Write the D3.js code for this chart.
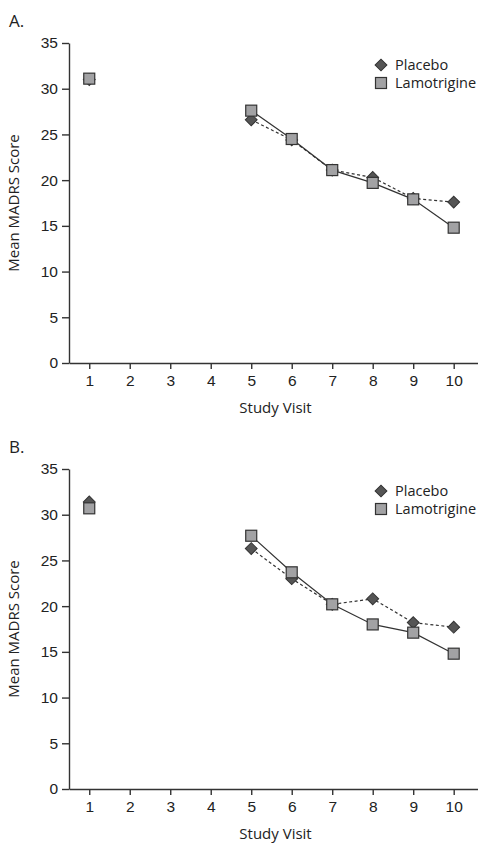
<!DOCTYPE html>
<html>
<head>
<meta charset="utf-8">
<script src="https://cdn.jsdelivr.net/npm/d3@7"></script>
<style>
  body { margin: 0; background: #fff; }
  svg { display: block; font-family: "Open Sans", sans-serif; }
  .axis path, .axis line { stroke: #333; stroke-width: 1.4; }
  .axis text { fill: #222; font-size: 15.5px; }
</style>
</head>
<body>
<div id="chart"></div>
<script>
// study visits that were measured
var visits = [1, 5, 6, 7, 8, 9, 10];
var xTicks = [1, 2, 3, 4, 5, 6, 7, 8, 9, 10];
var yTicks = [0, 5, 10, 15, 20, 25, 30, 35];

// panel A
var placeboA = [31.0, 26.6, 24.4, 21.1, 20.3, 18.0, 17.6];
var lamotrigineA = [31.1, 27.6, 24.5, 21.1, 19.7, 17.9, 14.8];

// panel B
var placeboB = [31.4, 26.3, 23.0, 20.2, 20.8, 18.2, 17.7];
var lamotrigineB = [30.7, 27.7, 23.7, 20.2, 18.0, 17.1, 14.8];

var svgWidth = 478, svgHeight = 844;

var svg = d3.select("#chart").append("svg")
    .attr("width", svgWidth)
    .attr("height", svgHeight);

function drawPanel(top, label, placebo, lamotrigine) {
    var margin = { left: 69, top: top },
        width = svgWidth - margin.left,
        height = 320;

    var g = svg.append("g")
        .attr("transform", "translate(" + margin.left + "," + margin.top + ")");

    var x = d3.scaleLinear().domain([0.5, 10.6]).range([0, width]);
    var y = d3.scaleLinear().domain([0, 35]).range([height, 0]);

    svg.append("text")
        .attr("x", 9)
        .attr("y", top - 16)
        .style("font-size", "17px")
        .attr("fill", "#222")
        .text(label);

    g.append("g")
        .attr("class", "axis")
        .attr("transform", "translate(0," + height + ")")
        .call(d3.axisBottom(x).tickValues(xTicks).tickSize(6).tickSizeOuter(0).tickPadding(6));

    g.append("g")
        .attr("class", "axis")
        .call(d3.axisLeft(y).tickValues(yTicks).tickSize(7).tickSizeOuter(0).tickPadding(4));

    g.append("text")
        .attr("x", x(5.6))
        .attr("y", height + 50)
        .attr("text-anchor", "middle")
        .style("font-size", "15px")
        .attr("fill", "#222")
        .text("Study Visit");

    g.append("text")
        .attr("transform", "rotate(-90)")
        .attr("x", -height / 2)
        .attr("y", -50)
        .attr("text-anchor", "middle")
        .style("font-size", "15px")
        .attr("fill", "#222")
        .text("Mean MADRS Score");

    // baseline visit is not joined to the rest
    var line = d3.line()
        .defined(function (d, i) { return visits[i] >= 5; })
        .x(function (d, i) { return x(visits[i]); })
        .y(function (d) { return y(d); });

    g.append("path")
        .attr("d", line(placebo))
        .attr("fill", "none")
        .attr("stroke", "#333")
        .attr("stroke-width", 1.2)
        .attr("stroke-dasharray", "3,2.5");

    g.append("path")
        .attr("d", line(lamotrigine))
        .attr("fill", "none")
        .attr("stroke", "#333")
        .attr("stroke-width", 1.2);

    var diamond = d3.symbol().type(d3.symbolSquare).size(70);

    g.selectAll(".placebo")
        .data(placebo)
        .enter().append("path")
        .attr("class", "placebo")
        .attr("d", diamond)
        .attr("transform", function (d, i) { return "translate(" + x(visits[i]) + "," + y(d) + ") rotate(45)"; })
        .attr("fill", "#555")
        .attr("stroke", "#333")
        .attr("stroke-width", 1);

    g.selectAll(".lamo")
        .data(lamotrigine)
        .enter().append("rect")
        .attr("class", "lamo")
        .attr("x", function (d, i) { return x(visits[i]) - 5.5; })
        .attr("y", function (d) { return y(d) - 5.5; })
        .attr("width", 11)
        .attr("height", 11)
        .attr("fill", "#a2a2a4")
        .attr("stroke", "#333")
        .attr("stroke-width", 1.2);

    // legend
    var legend = g.append("g").attr("transform", "translate(312,22)");
    legend.append("path")
        .attr("d", diamond)
        .attr("transform", "translate(0,0) rotate(45)")
        .attr("fill", "#555")
        .attr("stroke", "#333");
    legend.append("text")
        .attr("x", 14).attr("y", 5)
        .style("font-size", "14.5px")
        .attr("fill", "#222")
        .text("Placebo");
    legend.append("rect")
        .attr("x", -5.5).attr("y", 12.5)
        .attr("width", 11).attr("height", 11)
        .attr("fill", "#a2a2a4")
        .attr("stroke", "#333")
        .attr("stroke-width", 1.2);
    legend.append("text")
        .attr("x", 14).attr("y", 23)
        .style("font-size", "14.5px")
        .attr("fill", "#222")
        .text("Lamotrigine");
}

drawPanel(43, "A.", placeboA, lamotrigineA);
drawPanel(469, "B.", placeboB, lamotrigineB);
</script>
</body>
</html>
